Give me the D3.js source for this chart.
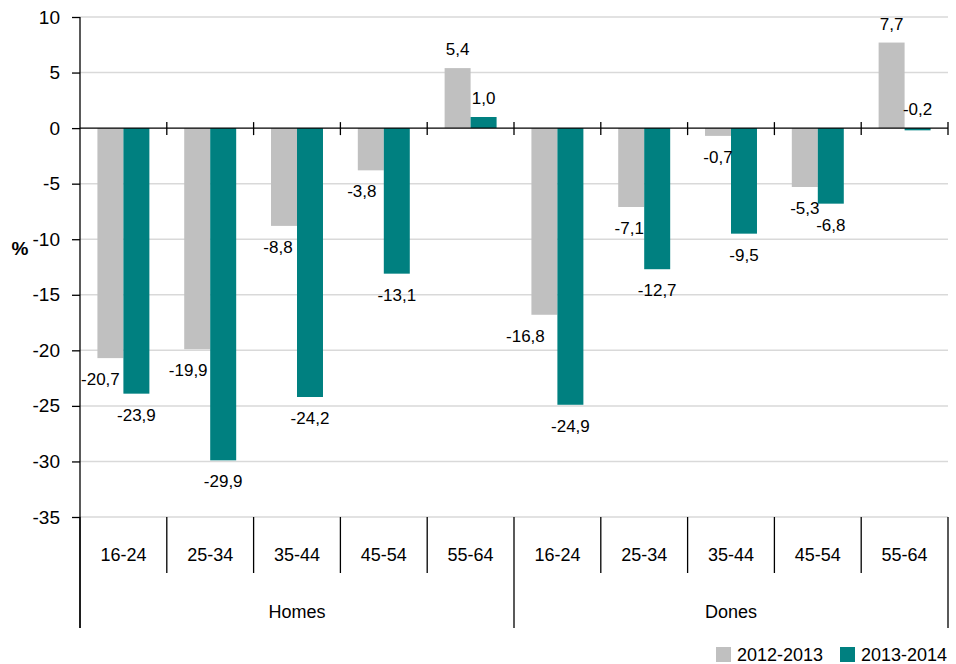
<!DOCTYPE html>
<html>
<head>
<meta charset="utf-8">
<script src="https://cdn.jsdelivr.net/npm/d3@7"></script>
<style>
  html, body { margin: 0; padding: 0; background: #fff; }
  svg text { font-family: "Liberation Sans", Arial, sans-serif; fill: #000; }
</style>
</head>
<body>
<svg id="chart" width="956" height="664"></svg>
<script>
// ---- data ----
const groups = ["Homes", "Dones"];
const ageBands = ["16-24", "25-34", "35-44", "45-54", "55-64"];
const seriesNames = ["2012-2013", "2013-2014"];
const values2012_2013 = [-20.7, -19.9, -8.8, -3.8, 5.4, -16.8, -7.1, -0.7, -5.3, 7.7];
const values2013_2014 = [-23.9, -29.9, -24.2, -13.1, 1.0, -24.9, -12.7, -9.5, -6.8, -0.2];
const yTicks = [10, 5, 0, -5, -10, -15, -20, -25, -30, -35];
const seriesColors = ["#c0c0c0", "#008080"];
// label nudges (horizontal) to avoid overlaps, as in the original
const labelNudge2012 = [-10, -9, -6, -9, 0, -19, -2, 0, 0, 0];
const labelNudge2013 = [0, 0, 0, 0, 0, 0, 0, 0, 0, 0];

(function () {
// ---- layout ----
const svg = d3.select("#chart");
const mLeft = 80, mRight = 948, mTop = 17, mBottom = 517;
const fsCat = 18, fsVal = 17, fsTick = 19;

const categories = [];
groups.forEach(g => ageBands.forEach(a => categories.push({group: g, band: a})));
const idx = categories.map((d, i) => i);

const x0 = d3.scaleBand().domain(idx).range([mLeft, mRight]).paddingInner(0).paddingOuter(0);
const x1 = d3.scaleBand().domain(seriesNames).range([0, x0.bandwidth()]).paddingInner(0).paddingOuter(0.67);
const y = d3.scaleLinear().domain([-35, 10]).range([mBottom, mTop]);

const seriesValues = [values2012_2013, values2013_2014];
const nudges = [labelNudge2012, labelNudge2013];
const hy = s => String(s).replace(/\u2212/g, "-");

// gridlines
svg.append("g")
  .selectAll("line")
  .data(yTicks.filter(t => t !== 0))
  .join("line")
  .attr("x1", mLeft).attr("x2", mRight)
  .attr("y1", d => y(d)).attr("y2", d => y(d))
  .attr("stroke", "#d9d9d9").attr("stroke-width", 1.5);

// bars
seriesNames.forEach((s, si) => {
  svg.append("g")
    .selectAll("rect")
    .data(seriesValues[si].map((v, i) => ({v, i})))
    .join("rect")
    .attr("x", d => x0(d.i) + x1(s))
    .attr("width", x1.bandwidth())
    .attr("y", d => Math.min(y(d.v), y(0)))
    .attr("height", d => Math.abs(y(d.v) - y(0)))
    .attr("fill", seriesColors[si]);
});

// y axis
const yAxis = d3.axisLeft(y).tickValues(yTicks).tickSize(8).tickPadding(12).tickFormat(d => hy(d));
const yg = svg.append("g").attr("transform", `translate(${mLeft},0)`).call(yAxis);
yg.select(".domain").remove();
yg.selectAll(".tick line").attr("stroke", "#000").attr("stroke-width", 1.3);
yg.selectAll(".tick text").style("font-size", fsTick + "px").style("font-family", "Liberation Sans, Arial, sans-serif").attr("fill", "#000");
svg.append("line").attr("x1", mLeft).attr("x2", mLeft).attr("y1", mTop).attr("y2", 628)
  .attr("stroke", "#000").attr("stroke-width", 1.3);

// zero line with crossing ticks
svg.append("line").attr("x1", mLeft).attr("x2", mRight).attr("y1", y(0)).attr("y2", y(0))
  .attr("stroke", "#000").attr("stroke-width", 1.3);
const boundaries = d3.range(11).map(i => mLeft + i * x0.step());
svg.append("g").selectAll("line").data(boundaries.slice(1)).join("line")
  .attr("x1", d => d).attr("x2", d => d)
  .attr("y1", y(0) - 6).attr("y2", y(0) + 7)
  .attr("stroke", "#000").attr("stroke-width", 1.3);

// bottom category separators
svg.append("g").selectAll("line").data(boundaries).join("line")
  .attr("x1", d => d).attr("x2", d => d)
  .attr("y1", mBottom)
  .attr("y2", (d, i) => (i % 5 === 0) ? 628 : 573)
  .attr("stroke", "#000").attr("stroke-width", 1.3);

// category labels
svg.append("g").selectAll("text").data(categories).join("text")
  .attr("x", (d, i) => x0(i) + x0.bandwidth() / 2)
  .attr("y", 555)
  .attr("text-anchor", "middle").attr("dy", "0.35em")
  .style("font-size", fsCat + "px")
  .text(d => d.band);

// group labels
svg.append("g").selectAll("text").data(groups).join("text")
  .attr("x", (g, gi) => (x0(gi * 5) + x0(gi * 5 + 4) + x0.bandwidth()) / 2)
  .attr("y", 612)
  .attr("text-anchor", "middle").attr("dy", "0.35em")
  .style("font-size", fsCat + "px")
  .text(d => d);

// value labels
const fmt = v => hy(d3.format(".1f")(v)).replace(".", ",");
seriesNames.forEach((s, si) => {
  svg.append("g").selectAll("text")
    .data(seriesValues[si].map((v, i) => ({v, i})))
    .join("text")
    .attr("x", d => x0(d.i) + x1(s) + x1.bandwidth() / 2 + nudges[si][d.i])
    .attr("y", d => (d.v >= 0 || Math.abs(d.v) < 0.5) ? Math.min(y(d.v), y(0)) - 19 : y(d.v) + 21)
    .attr("text-anchor", "middle").attr("dy", "0.35em")
    .style("font-size", fsVal + "px")
    .text(d => fmt(d.v));
});

// y axis title
svg.append("text").attr("x", 20).attr("y", 248).attr("text-anchor", "middle").attr("dy", "0.35em")
  .style("font-size", "19px").style("font-weight", "bold").text("%");

// legend
const legend = svg.append("g");
const legendX = [716, 840];
seriesNames.forEach((s, si) => {
  legend.append("rect").attr("x", legendX[si]).attr("y", 647).attr("width", 15).attr("height", 15)
    .attr("fill", seriesColors[si]);
  legend.append("text").attr("x", legendX[si] + 21).attr("y", 655).attr("dy", "0.35em")
    .style("font-size", fsCat + "px").text(s);
});
})();
</script>
</body>
</html>
